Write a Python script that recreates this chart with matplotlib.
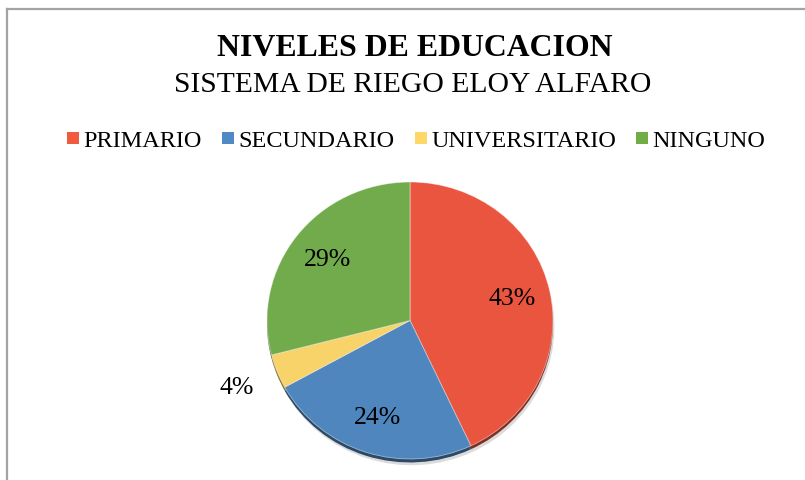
import matplotlib
matplotlib.use("Agg")
import matplotlib.pyplot as plt
from matplotlib.lines import Line2D
import numpy as np

categories = ["PRIMARIO", "SECUNDARIO", "UNIVERSITARIO", "NINGUNO"]
values = [43, 24, 4, 29]
colors = ["#E9553E", "#4F86BD", "#F8D36A", "#71AB4C"]
legend_colors = ["#F15A3F", "#4F8AC6", "#FDD866", "#70AD47"]
title = "NIVELES DE EDUCACION"
subtitle = "SISTEMA DE RIEGO ELOY ALFARO"

plt.rcParams['font.family'] = ['Liberation Serif', 'DejaVu Serif']

W, H = 805, 481
fig = plt.figure(figsize=(W / 100, H / 100), dpi=100)
fig.patch.set_facecolor("white")

# frame lines (top and left)
fig.add_artist(Line2D([6.5 / W, 1.0], [1 - 9.5 / H, 1 - 9.5 / H], color="#A3A3A3", lw=1.6, transform=fig.transFigure))
fig.add_artist(Line2D([6.5 / W, 6.5 / W], [1 - 9.5 / H, 0], color="#A3A3A3", lw=1.6, transform=fig.transFigure))

fig.text(415 / W, 1 - 49 / H, title, ha="center", va="center", fontsize=22.9, fontweight="bold")
fig.text(413 / W, 1 - 85 / H, subtitle, ha="center", va="center", fontsize=21.3)

cx, cy, rx, ry = 410, 321.5, 143, 138.5
ax = fig.add_axes([(cx - rx) / W, (H - cy - ry) / H, 2 * rx / W, 2 * ry / H])
ax.axis("off")


def darken(c, f):
    rgb = np.array(matplotlib.colors.to_rgb(c))
    return tuple(rgb * f)

# soft shadow / bevel under the pie
ax.pie(values, colors=["#9a9a9a"] * 4, startangle=90, counterclock=False,
       center=(0.01, -0.045), radius=1.0, wedgeprops=dict(linewidth=0, alpha=0.35))
ax.pie(values, colors=[darken(c, 0.55) for c in colors], startangle=90, counterclock=False,
       center=(0, -0.025), radius=1.0, wedgeprops=dict(linewidth=0))
wedges, texts, autotexts = ax.pie(
    values, colors=colors, startangle=90, counterclock=False, radius=1.0,
    autopct=lambda p: f"{p:.0f}%", pctdistance=0.73,
    wedgeprops=dict(linewidth=0.6, edgecolor=(1, 1, 1, 0.5)),
    textprops=dict(fontsize=18.5, color="black"))

# small slice label placed outside
x, y = autotexts[2].get_position()
autotexts[2].set_position((x / 0.73 * 1.30, y / 0.73 * 1.30))

ax.set_aspect("auto")
ax.set_xlim(-1.0, 1.0)
ax.set_ylim(-1.0, 1.0)

handles = [Line2D([], [], marker="s", linestyle="none", markersize=8, markerfacecolor=c,
                  markeredgewidth=0) for c in legend_colors]
fig.legend(handles, categories, loc="center", bbox_to_anchor=(416.5 / W, 1 - 141 / H), ncol=4,
           frameon=False, fontsize=17.5, handlelength=0.45, handletextpad=0.2,
           columnspacing=0.86, borderpad=0)

fig.savefig("out.png", dpi=100, facecolor="white")
